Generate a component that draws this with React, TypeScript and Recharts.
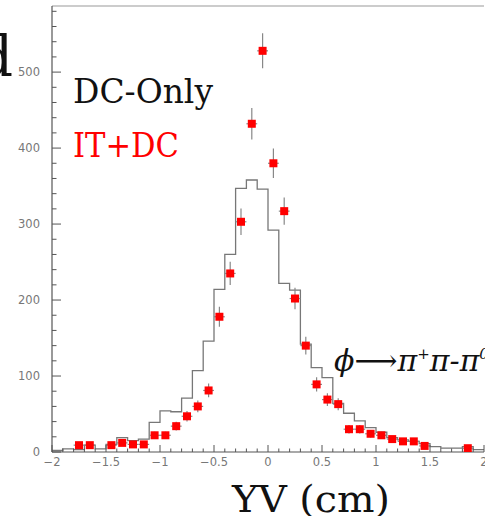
import React from "react";
import {
  ComposedChart,
  Line,
  Scatter,
  ErrorBar,
  XAxis,
  YAxis,
  ReferenceLine,
} from "recharts";

// DC-Only histogram: lower bin edges (width 0.1) and counts
const binEdges = [
  -2.0, -1.9, -1.8, -1.7, -1.6, -1.5, -1.4, -1.3, -1.2, -1.1,
  -1.0, -0.9, -0.8, -0.7, -0.6, -0.5, -0.4, -0.3, -0.2, -0.1,
  0.0, 0.1, 0.2, 0.3, 0.4, 0.5, 0.6, 0.7, 0.8, 0.9,
  1.0, 1.1, 1.2, 1.3, 1.4, 1.5, 1.6, 1.7, 1.8, 1.9,
];
const dcOnly = [
  2, 4, 3, 9, 4, 10, 19, 15, 17, 39,
  54, 53, 71, 107, 146, 214, 260, 347, 358, 346,
  292, 222, 213, 142, 111, 98, 64, 51, 41, 32,
  26, 19, 16, 14, 11, 7, 5, 5, 7, 3,
];
const histEnd = 2.0;

// IT+DC points (bin centres, counts, errors)
const itdcX = [
  -1.75, -1.65, -1.45, -1.35, -1.25, -1.15, -1.05, -0.95, -0.85, -0.75,
  -0.65, -0.55, -0.45, -0.35, -0.25, -0.15, -0.05, 0.05, 0.15, 0.25,
  0.35, 0.45, 0.55, 0.65, 0.75, 0.85, 0.95, 1.05, 1.15, 1.25,
  1.35, 1.45, 1.85,
];
const itdcY = [
  9, 9, 9, 12, 10, 10, 22, 22, 34, 47,
  60, 81, 178, 235, 303, 432, 528, 380, 317, 202,
  140, 89, 69, 63, 30, 30, 24, 22, 17, 14,
  14, 8, 5,
];
const itdcErr = [
  3, 3, 3, 3.5, 3.2, 3.2, 4.7, 4.7, 5.8, 6.9,
  7.7, 9, 13.3, 15.3, 17.4, 20.8, 23, 19.5, 17.8, 14.2,
  11.8, 9.4, 8.3, 7.9, 5.5, 5.5, 4.9, 4.7, 4.1, 3.7,
  3.7, 2.8, 2.2,
];
const binHalf = 0.05;

const xMajor = [-2, -1.5, -1, -0.5, 0, 0.5, 1, 1.5, 2];
const yMajor = [0, 100, 200, 300, 400, 500];
const Y_MAX = 587;

const xTicks: number[] = [];
for (let i = -20; i <= 20; i++) xTicks.push(i / 10);
const yTicks: number[] = [];
for (let v = 0; v <= 580; v += 20) yTicks.push(v);

const histData = [
  ...binEdges.map((x, i) => ({ x, y: dcOnly[i] })),
  { x: histEnd, y: dcOnly[dcOnly.length - 1] },
];
const pointData = itdcX.map((x, i) => ({
  x,
  y: itdcY[i],
  ey: itdcErr[i],
  ex: binHalf,
}));

const AXIS = "#555";
const LABEL = "#777";
const tickFont = "'DejaVu Sans', sans-serif";
const serif = "'DejaVu Serif', serif";

const fmt = (v: number) => (v < 0 ? "\u2212" + Math.abs(v) : String(v));

function XTick(props: any) {
  const { x, y, payload } = props;
  const v = payload.value as number;
  const major = xMajor.some((m) => Math.abs(m - v) < 1e-6);
  return (
    <g>
      <line x1={x} y1={y} x2={x} y2={y - (major ? 7 : 3.5)} stroke={AXIS} />
      {major && (
        <text x={x} y={y + 14} textAnchor="middle" fontSize={11.5} fill={LABEL} fontFamily={tickFont}>
          {fmt(Math.round(v * 10) / 10)}
        </text>
      )}
    </g>
  );
}

function YTick(props: any) {
  const { x, y, payload } = props;
  const v = payload.value as number;
  const major = yMajor.includes(v);
  return (
    <g>
      <line x1={x} y1={y} x2={x + (major ? 9 : 4.5)} y2={y} stroke={AXIS} />
      {major && (
        <text x={x - 12} y={y + 4} textAnchor="end" fontSize={11.5} fill={LABEL} fontFamily={tickFont}>
          {v}
        </text>
      )}
    </g>
  );
}

export default function App() {
  return (
    <div style={{ position: "absolute", left: 0, top: 0, width: 485, height: 516, background: "#fff", overflow: "hidden" }}>
      <ComposedChart width={485} height={516} margin={{ top: 6, right: 1, left: 0, bottom: 0 }}>
        <XAxis
          dataKey="x"
          type="number"
          domain={[-2, 2]}
          allowDataOverflow
          ticks={xTicks}
          interval={0}
          height={64}
          tickSize={0}
          tickMargin={0}
          tickLine={false}
          tick={<XTick />}
          axisLine={{ stroke: AXIS, strokeWidth: 1.2 }}
        />
        <YAxis
          dataKey="y"
          type="number"
          domain={[0, Y_MAX]}
          allowDataOverflow
          ticks={yTicks}
          interval={0}
          width={52}
          tickSize={0}
          tickMargin={0}
          tickLine={false}
          tick={<YTick />}
          axisLine={{ stroke: AXIS, strokeWidth: 1.2 }}
        />
        <ReferenceLine y={Y_MAX} stroke="#999" strokeWidth={1.2} />
        <Line
          data={histData}
          dataKey="y"
          type="stepAfter"
          stroke="#777"
          strokeWidth={1.3}
          dot={false}
          activeDot={false}
          isAnimationActive={false}
        />
        <Scatter data={pointData} dataKey="y" fill="#ff0000" shape="square" isAnimationActive={false}>
          <ErrorBar dataKey="ey" direction="y" width={0} stroke="#888" strokeWidth={1.2} />
          <ErrorBar dataKey="ex" direction="x" width={0} stroke="#888" strokeWidth={1.2} />
        </Scatter>
      </ComposedChart>
      <svg width={485} height={516} style={{ position: "absolute", left: 0, top: 0, pointerEvents: "none" }}>
        <text x={13} y={76} textAnchor="end" fontSize={56} fontFamily={serif} fill="#111">d</text>
        <text x={73} y={103} fontSize={33} fontFamily={serif} fill="#111" textLength={140} lengthAdjust="spacingAndGlyphs">
          DC-Only
        </text>
        <text x={73} y={157} fontSize={34} fontFamily={serif} fill="#ff0000" textLength={106} lengthAdjust="spacingAndGlyphs">
          IT+DC
        </text>
        <text x={232} y={512} fontSize={38} fontFamily={serif} fill="#111" textLength={158} lengthAdjust="spacingAndGlyphs">
          YV (cm)
        </text>
        <text x={334} y={371} fontSize={30} fontFamily={serif} fontStyle="italic" fill="#111">
          <tspan>ϕ</tspan>
          <tspan fontStyle="normal">⟶</tspan>
          <tspan>π</tspan>
          <tspan fontSize={15} dy={-12}>+</tspan>
          <tspan dy={12}>π</tspan>
          <tspan>-</tspan>
          <tspan>π</tspan>
          <tspan fontSize={15} dy={-12}>0</tspan>
        </text>
      </svg>
    </div>
  );
}
